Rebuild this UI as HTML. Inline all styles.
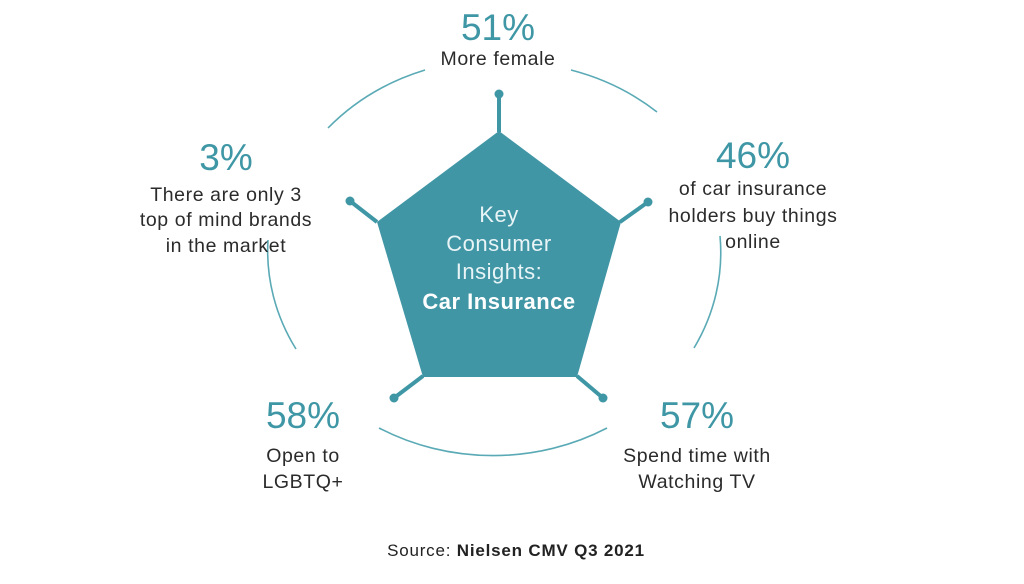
<!DOCTYPE html>
<html><head><meta charset="utf-8"><style>
html,body{margin:0;padding:0;background:#fff;}
svg{display:block;}
text{font-family:"Liberation Sans",Arial,sans-serif;}
.p{fill:#3f97a6;font-size:37px;text-anchor:middle;}
.t{fill:#2b2b2b;font-size:19.5px;letter-spacing:0.6px;text-anchor:middle;}
</style></head><body>
<svg width="1024" height="584" viewBox="0 0 1024 584">
<g fill="none" stroke="#5aaab6" stroke-width="1.6">
<path d="M328 128 A226 202 0 0 1 425 70"/>
<path d="M571 70 A226 202 0 0 1 657 112"/>
<path d="M720 236 A226 202 0 0 1 694 348"/>
<path d="M379 428 A226 202 0 0 0 607 428"/>
<path d="M296 349 A226 202 0 0 1 268 240"/>
</g>
<g stroke="#3f97a6" stroke-width="4" fill="#3f97a6">
<line x1="499" y1="132" x2="499" y2="94"/>
<line x1="620" y1="222" x2="648" y2="202"/>
<line x1="377" y1="222" x2="350" y2="201"/>
<line x1="423" y1="376" x2="394" y2="398"/>
<line x1="577" y1="376" x2="603" y2="398"/>
<g stroke="none">
<circle cx="499" cy="94" r="4.5"/><circle cx="648" cy="202" r="4.5"/><circle cx="350" cy="201" r="4.5"/><circle cx="394" cy="398" r="4.5"/><circle cx="603" cy="398" r="4.5"/>
</g>
</g>
<polygon points="499,131 621,222 577,377 423,377 377,222" fill="#4196a6"/>
<g fill="#e8f4f6" font-size="22" letter-spacing="0.5" text-anchor="middle">
<text x="499" y="222">Key</text>
<text x="499" y="251">Consumer</text>
<text x="499" y="279">Insights:</text>
<text x="499" y="309" font-weight="bold" fill="#fff">Car Insurance</text>
</g>
<text class="p" x="498" y="40">51%</text>
<text class="t" x="498" y="65">More female</text>
<text class="p" x="226" y="170">3%</text>
<text class="t" x="226" y="201">There are only 3</text>
<text class="t" x="226" y="226">top of mind brands</text>
<text class="t" x="226" y="252">in the market</text>
<text class="p" x="753" y="168">46%</text>
<text class="t" x="753" y="195">of car insurance</text>
<text class="t" x="753" y="222">holders buy things</text>
<text class="t" x="753" y="248">online</text>
<text class="p" x="303" y="428">58%</text>
<text class="t" x="303" y="462">Open to</text>
<text class="t" x="303" y="488">LGBTQ+</text>
<text class="p" x="697" y="428">57%</text>
<text class="t" x="697" y="462">Spend time with</text>
<text class="t" x="697" y="488">Watching TV</text>
<text x="516" y="556" font-size="17" letter-spacing="0.8" text-anchor="middle" fill="#222">Source: <tspan font-weight="bold">Nielsen CMV Q3 2021</tspan></text>
</svg>
</body></html>
